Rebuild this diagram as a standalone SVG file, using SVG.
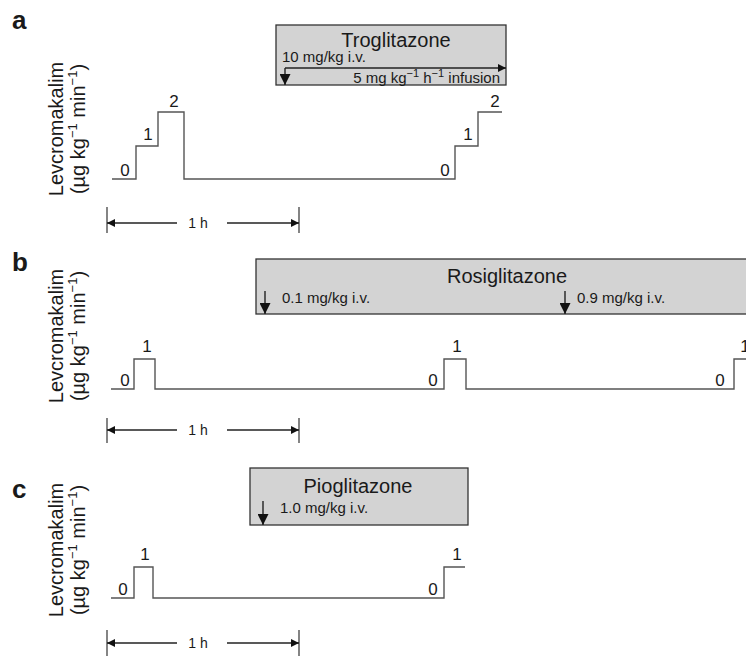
<svg xmlns="http://www.w3.org/2000/svg" width="746" height="656" viewBox="0 0 746 656">
<style>
text{font-family:"Liberation Sans",Arial,sans-serif;fill:#1a1a1a}
.pl{font-size:26px;font-weight:bold}
.ax{font-size:20px}
.axs{font-size:13px}
.sup{font-size:11px}
.ttl{font-size:20px}
.dose{font-size:15px}
.lvl{font-size:17px}
.sc{font-size:14px}
.box{fill:#d3d3d3;stroke:#333;stroke-width:1.3}
.tr{fill:none;stroke:#555;stroke-width:1.4}
.ln{fill:none;stroke:#222;stroke-width:1.4}
.tk{fill:none;stroke:#333;stroke-width:1.2}
</style>
<defs>
<marker id="ah" viewBox="0 0 10 10" refX="10" refY="5" markerWidth="10" markerHeight="8" markerUnits="userSpaceOnUse" orient="auto">
<path d="M0,0 L10,5 L0,10 z" fill="#111"/>
</marker>
<marker id="ahd" viewBox="0 0 10 10" refX="10" refY="5" markerWidth="11" markerHeight="11" markerUnits="userSpaceOnUse" orient="auto">
<path d="M0,0 L10,5 L0,10 z" fill="#111"/>
</marker>
</defs>
<rect width="746" height="656" fill="#fff"/>

<!-- Panel labels -->
<g id="labels">
<text class="pl" x="12" y="29">a</text>
<text class="pl" x="12" y="271">b</text>
<text class="pl" x="12" y="498">c</text>
</g>

<!-- Axis labels -->
<g id="axis-a">
<text class="ax" text-anchor="middle" transform="translate(63,129) rotate(-90)">Levcromakalim</text>
<text class="ax" text-anchor="middle" transform="translate(85,129) rotate(-90)">(µg kg<tspan class="axs" dy="-8">−1</tspan><tspan dy="8"> min</tspan><tspan class="axs" dy="-8">−1</tspan><tspan dy="8">)</tspan></text>
</g>
<g id="axis-b">
<text class="ax" text-anchor="middle" transform="translate(63,336) rotate(-90)">Levcromakalim</text>
<text class="ax" text-anchor="middle" transform="translate(85,336) rotate(-90)">(µg kg<tspan class="axs" dy="-8">−1</tspan><tspan dy="8"> min</tspan><tspan class="axs" dy="-8">−1</tspan><tspan dy="8">)</tspan></text>
</g>
<g id="axis-c">
<text class="ax" text-anchor="middle" transform="translate(63,550) rotate(-90)">Levcromakalim</text>
<text class="ax" text-anchor="middle" transform="translate(85,550) rotate(-90)">(µg kg<tspan class="axs" dy="-8">−1</tspan><tspan dy="8"> min</tspan><tspan class="axs" dy="-8">−1</tspan><tspan dy="8">)</tspan></text>
</g>

<!-- Panel a -->
<g id="box-troglitazone">
<rect class="box" x="276" y="25" width="230" height="60"/>
<text class="ttl" x="396" y="47" text-anchor="middle">Troglitazone</text>
<text class="dose" x="282" y="62">10 mg/kg i.v.</text>
<text class="dose" x="500" y="83" text-anchor="end">5 mg kg<tspan class="sup" dy="-6">−1</tspan><tspan dy="6"> h</tspan><tspan class="sup" dy="-6">−1</tspan><tspan dy="6"> infusion</tspan></text>
</g>
<g id="trace-a">
<path class="tr" d="M112,179 H136 V146 H158 V112 H184 V179 H455 V146 H478 V112 H502"/>
<text class="lvl" x="125" y="176" text-anchor="middle">0</text>
<text class="lvl" x="148" y="140" text-anchor="middle">1</text>
<text class="lvl" x="174" y="107" text-anchor="middle">2</text>
<text class="lvl" x="445" y="176" text-anchor="middle">0</text>
<text class="lvl" x="468" y="140" text-anchor="middle">1</text>
<text class="lvl" x="495" y="107" text-anchor="middle">2</text>
</g>
<g id="scale-a">
<line class="tk" x1="107" y1="207" x2="107" y2="233"/>
<line class="tk" x1="299" y1="207" x2="299" y2="233"/>
<text class="sc" x="198" y="228" text-anchor="middle">1 h</text>
</g>

<!-- Panel b -->
<g id="box-rosiglitazone">
<rect class="box" x="256" y="259" width="500" height="55"/>
<text class="ttl" x="507" y="283" text-anchor="middle">Rosiglitazone</text>
<text class="dose" x="282" y="303">0.1 mg/kg i.v.</text>
<text class="dose" x="577" y="303">0.9 mg/kg i.v.</text>
</g>
<g id="trace-b">
<path class="tr" d="M111,389 H134 V359 H155 V389 H444 V359 H466 V389 H734 V359 H746"/>
<text class="lvl" x="125" y="386" text-anchor="middle">0</text>
<text class="lvl" x="147" y="352" text-anchor="middle">1</text>
<text class="lvl" x="433" y="386" text-anchor="middle">0</text>
<text class="lvl" x="457" y="352" text-anchor="middle">1</text>
<text class="lvl" x="720" y="386" text-anchor="middle">0</text>
<text class="lvl" x="745" y="352" text-anchor="middle">1</text>
</g>
<g id="scale-b">
<line class="tk" x1="107" y1="418" x2="107" y2="443"/>
<line class="tk" x1="299" y1="418" x2="299" y2="443"/>
<text class="sc" x="198" y="435" text-anchor="middle">1 h</text>
</g>

<!-- Panel c -->
<g id="box-pioglitazone">
<rect class="box" x="250" y="468" width="218" height="57"/>
<text class="ttl" x="358" y="493" text-anchor="middle">Pioglitazone</text>
<text class="dose" x="280" y="513">1.0 mg/kg i.v.</text>
</g>
<g id="trace-c">
<path class="tr" d="M111,598 H134 V567 H153 V598 H444 V567 H465"/>
<text class="lvl" x="123" y="595" text-anchor="middle">0</text>
<text class="lvl" x="145" y="560" text-anchor="middle">1</text>
<text class="lvl" x="433" y="595" text-anchor="middle">0</text>
<text class="lvl" x="457" y="560" text-anchor="middle">1</text>
</g>
<g id="scale-c">
<line class="tk" x1="107" y1="630" x2="107" y2="656"/>
<line class="tk" x1="299" y1="630" x2="299" y2="656"/>
<text class="sc" x="198" y="648" text-anchor="middle">1 h</text>
</g>

<!-- Connectors -->
<g id="connectors">
<line class="ln" x1="285" y1="68" x2="506" y2="68" marker-end="url(#ah)"/>
<line class="ln" x1="285" y1="68" x2="285" y2="85" marker-end="url(#ahd)"/>
<line class="ln" x1="265" y1="291" x2="265" y2="314" marker-end="url(#ahd)"/>
<line class="ln" x1="565" y1="291" x2="565" y2="314" marker-end="url(#ahd)"/>
<line class="ln" x1="263" y1="501" x2="263" y2="525" marker-end="url(#ahd)"/>
<line class="ln" x1="177" y1="223" x2="107" y2="223" marker-end="url(#ah)"/>
<line class="ln" x1="227" y1="223" x2="299" y2="223" marker-end="url(#ah)"/>
<line class="ln" x1="177" y1="430" x2="107" y2="430" marker-end="url(#ah)"/>
<line class="ln" x1="227" y1="430" x2="299" y2="430" marker-end="url(#ah)"/>
<line class="ln" x1="177" y1="643" x2="107" y2="643" marker-end="url(#ah)"/>
<line class="ln" x1="227" y1="643" x2="299" y2="643" marker-end="url(#ah)"/>
</g>
</svg>
